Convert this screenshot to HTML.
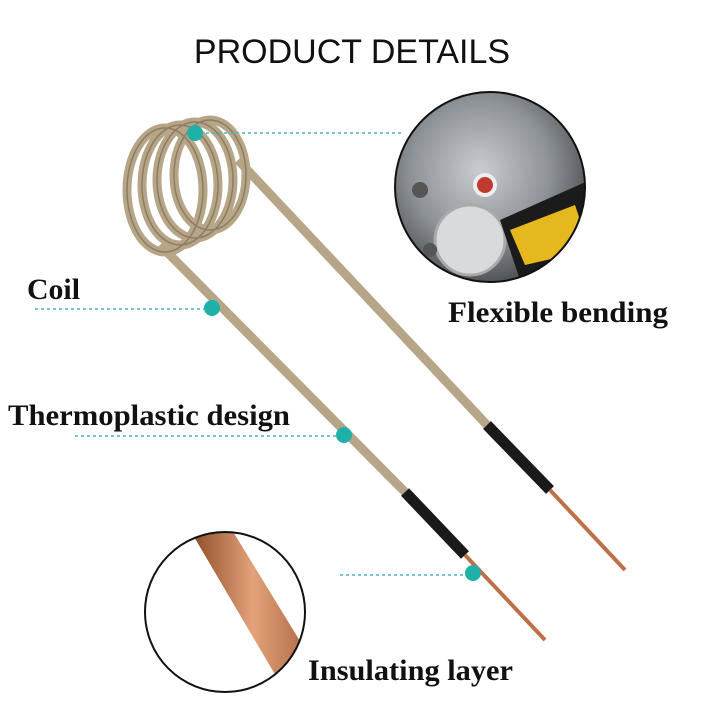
<!DOCTYPE html>
<html><head><meta charset="utf-8"><style>
html,body{margin:0;padding:0;background:#fff;width:720px;height:720px;overflow:hidden}
</style></head><body>
<svg width="720" height="720" viewBox="0 0 720 720" xmlns="http://www.w3.org/2000/svg">
<defs>
<linearGradient id="cop" x1="0" y1="0" x2="1" y2="0">
<stop offset="0" stop-color="#8a4a24"/><stop offset="0.45" stop-color="#e3a27a"/><stop offset="1" stop-color="#9a5530"/>
</linearGradient>
<radialGradient id="ph" cx="0.45" cy="0.4" r="0.7">
<stop offset="0" stop-color="#c9ccd0"/><stop offset="0.5" stop-color="#8d9297"/><stop offset="1" stop-color="#2a2c30"/>
</radialGradient>
<clipPath id="c2"><circle cx="225" cy="612" r="80"/></clipPath>
<clipPath id="c1"><circle cx="490" cy="187" r="95"/></clipPath>
</defs>
<text x="352" y="63" text-anchor="middle" font-family="Liberation Sans, sans-serif" font-size="34" fill="#111">PRODUCT DETAILS</text>

<line x1="160" y1="245" x2="405" y2="492" stroke="#b7a587" stroke-width="9"/>
<line x1="405" y1="492" x2="465" y2="555" stroke="#1a1a1a" stroke-width="11"/>
<line x1="465" y1="555" x2="545" y2="640" stroke="#c07048" stroke-width="4"/>
<line x1="238" y1="160" x2="487" y2="425" stroke="#b7a587" stroke-width="9"/>
<line x1="487" y1="425" x2="550" y2="490" stroke="#1a1a1a" stroke-width="11"/>
<line x1="550" y1="490" x2="625" y2="570" stroke="#c07048" stroke-width="4"/>
<g fill="none" stroke="#b7a587" stroke-width="9">
<ellipse cx="165" cy="190" rx="38" ry="62"/>
<ellipse cx="180" cy="185" rx="38" ry="60"/>
<ellipse cx="195" cy="180" rx="38" ry="58"/>
<ellipse cx="210" cy="175" rx="36" ry="55"/>
</g>
<g fill="none" stroke="#8c7c62" stroke-width="1.5">
<ellipse cx="165" cy="190" rx="38" ry="62"/>
<ellipse cx="180" cy="185" rx="38" ry="60"/>
<ellipse cx="195" cy="180" rx="38" ry="58"/>
<ellipse cx="210" cy="175" rx="36" ry="55"/>
</g>

<g clip-path="url(#c1)">
<rect x="390" y="90" width="200" height="200" fill="url(#ph)"/>
<circle cx="470" cy="240" r="35" fill="#d8dadc" stroke="#aaa" stroke-width="3"/>
<circle cx="485" cy="185" r="10" fill="#c03a30" stroke="#eee" stroke-width="4"/>
<polygon points="500,220 590,180 590,270 520,280" fill="#1b1b1b"/>
<polygon points="510,230 575,205 590,250 525,265" fill="#e5b820"/>
<circle cx="420" cy="190" r="8" fill="#555"/>
<circle cx="430" cy="250" r="7" fill="#555"/>
</g>
<circle cx="490" cy="187" r="95" fill="none" stroke="#111" stroke-width="2"/>

<g clip-path="url(#c2)">
<rect x="140" y="530" width="170" height="170" fill="#fff"/>
<polygon points="190,530 232,530 330,690 290,700" fill="url(#cop)"/>
</g>
<circle cx="225" cy="612" r="80" fill="none" stroke="#111" stroke-width="2"/>

<g stroke="#4ab4c4" stroke-width="1.5" stroke-dasharray="3,3">
<line x1="200" y1="133" x2="402" y2="133"/>
<line x1="35" y1="309" x2="210" y2="309"/>
<line x1="75" y1="436" x2="343" y2="436"/>
<line x1="340" y1="575" x2="472" y2="575"/>
</g>
<g fill="#1fb0a8">
<circle cx="195" cy="133" r="8"/>
<circle cx="212" cy="308" r="8"/>
<circle cx="344" cy="435" r="8"/>
<circle cx="473" cy="573" r="8"/>
</g>

<g font-family="Liberation Serif, serif" font-weight="bold" font-size="30" fill="#111">
<text x="27" y="299" textLength="53" lengthAdjust="spacingAndGlyphs">Coil</text>
<text x="448" y="322" textLength="220" lengthAdjust="spacingAndGlyphs">Flexible bending</text>
<text x="8" y="425" textLength="282" lengthAdjust="spacingAndGlyphs">Thermoplastic design</text>
<text x="308" y="680" textLength="205" lengthAdjust="spacingAndGlyphs">Insulating layer</text>
</g>
</svg>
</body></html>
